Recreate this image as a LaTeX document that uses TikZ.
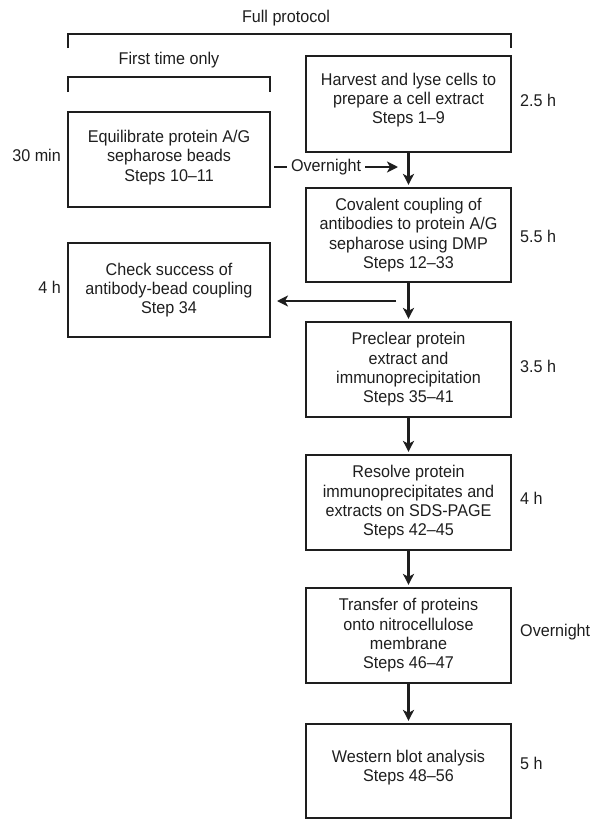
\documentclass[tikz,border=0pt]{standalone}
\usepackage{fontspec}
\setmainfont{Liberation Sans}[FakeStretch=0.95]
\usetikzlibrary{arrows.meta}
\definecolor{ink}{HTML}{1E1E1E}
\begin{document}
\begin{tikzpicture}[x=1pt,y=-1pt,
  every node/.style={font=\fontsize{17}{19.3}\selectfont, text=ink},
  boxbase/.style={draw=ink, line width=2.2pt, align=center, inner sep=0pt},
  lbox/.style={boxbase, minimum width=202pt},
  rbox/.style={boxbase, minimum width=205pt},
  boxtext/.style={align=center, inner sep=0pt},
  arr/.style={draw=ink, line width=2.2pt, -{Stealth[length=11pt,width=11pt,inset=3pt]}},
  brk/.style={draw=ink, line width=2.2pt},
  tlab/.style={anchor=west, inner sep=0pt},
  llab/.style={anchor=east, inner sep=0pt}]
\useasboundingbox (0,0) rectangle (602,833);

% brackets
\node (full) at (286,18) {Full protocol};
\draw[brk] (68,48) -- (68,34) -- (511,34) -- (511,48);
\node (first) at (169,60) {First time only};
\draw[brk] (68,92) -- (68,77) -- (270,77) -- (270,92);

% boxes
\node[rbox, minimum height=96pt] (harv) at (408.5,104) {};
\node[boxtext] (harvtxt) at ([yshift=4pt]harv.center) {Harvest and lyse cells to\\prepare a cell extract\\Steps 1--9};
\node[lbox, minimum height=95pt] (eq) at (169,159.5) {};
\node[boxtext] (eqtxt) at ([yshift=2pt]eq.center) {Equilibrate protein A/G\\sepharose beads\\Steps 10--11};
\node[rbox, minimum height=94pt] (cov) at (408.5,235) {Covalent coupling of\\antibodies to protein A/G\\sepharose using DMP\\Steps 12--33};
\node[lbox, minimum height=94pt] (chk) at (169,290) {Check success of\\antibody-bead coupling\\Step 34};
\node[rbox, minimum height=95pt] (pre) at (408.5,369.5) {Preclear protein\\extract and\\immunoprecipitation\\Steps 35--41};
\node[rbox, minimum height=95pt] (res) at (408.5,502.5) {Resolve protein\\immunoprecipitates and\\extracts on SDS-PAGE\\Steps 42--45};
\node[rbox, minimum height=95pt] (tra) at (408.5,635.5) {Transfer of proteins\\onto nitrocellulose\\membrane\\Steps 46--47};
\node[rbox, minimum height=94pt] (wes) at (408.5,771) {};
\node[boxtext] (westxt) at ([yshift=3.5pt]wes.center) {Western blot analysis\\Steps 48--56};

% time labels
\node[tlab] (t1) at (520,100) {2.5 h};
\node[tlab] (t2) at (520,236) {5.5 h};
\node[tlab] (t3) at (520,366) {3.5 h};
\node[tlab] (t4) at (520,498) {4 h};
\node[tlab] (t5) at (520,632) {Overnight};
\node[tlab] (t6) at (520,763) {5 h};
\node[llab] (l1) at (61,155) {30 min};
\node[llab] (l2) at (61,287) {4 h};

% connectors
\draw[arr] (harv.south) -- ([yshift=2pt]cov.north);
\draw[arr] (cov.south) -- ([yshift=2pt]pre.north);
\draw[arr] (pre.south) -- ([yshift=2pt]res.north);
\draw[arr] (res.south) -- ([yshift=2pt]tra.north);
\draw[arr] (tra.south) -- ([yshift=2pt]wes.north);

\coordinate (ovs) at (274,167);
\coordinate (ove) at (398,167);
\draw[arr] (ovs) -- node[pos=0.42, fill=white, inner sep=4pt] (ovlab) {Overnight} (ove);

\coordinate (cks) at (396,301);
\coordinate (cke) at (277,301);
\draw[arr] (cks) -- (cke);
\end{tikzpicture}
\end{document}
